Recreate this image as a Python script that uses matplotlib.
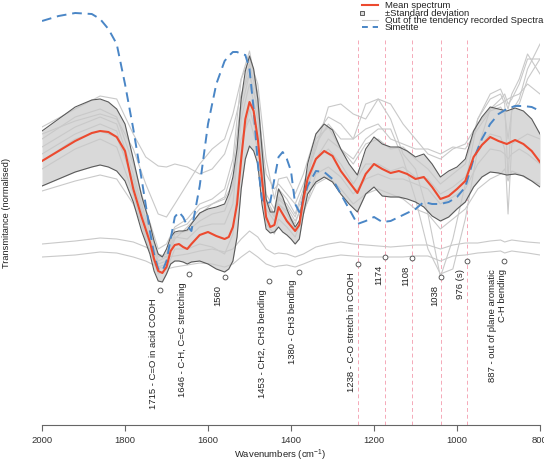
import matplotlib
matplotlib.use("Agg")
import matplotlib.pyplot as plt
from matplotlib.lines import Line2D
import numpy as np

plt.rcParams['font.family'] = ['Liberation Sans', 'DejaVu Sans']
plt.rcParams['mathtext.default'] = 'regular'

# wavenumber grid for the summary curves
wn = [2000, 1960, 1920, 1880, 1860, 1840, 1820, 1800, 1780, 1760, 1740, 1730, 1720, 1710,
      1700, 1690, 1680, 1670, 1660, 1650, 1640, 1620, 1600, 1580, 1560, 1550, 1540, 1530,
      1520, 1510, 1500, 1490, 1480, 1470, 1460, 1450, 1440, 1430, 1420, 1410, 1400, 1390,
      1380, 1370, 1360, 1340, 1320, 1300, 1280, 1260, 1240, 1220, 1200, 1180, 1160, 1140,
      1120, 1100, 1080, 1060, 1040, 1020, 1000, 980, 960, 940, 920, 900, 880, 860, 840,
      820, 800]

mean_spec = [1.38, 1.48, 1.58, 1.66, 1.68, 1.67, 1.62, 1.48, 1.10, 0.82, 0.57, 0.40, 0.28, 0.26,
             0.32, 0.48, 0.54, 0.55, 0.52, 0.50, 0.55, 0.64, 0.67, 0.63, 0.60, 0.62, 0.72, 0.95,
             1.40, 1.80, 1.97, 1.88, 1.60, 1.20, 0.82, 0.72, 0.74, 0.92, 0.85, 0.78, 0.73, 0.68,
             0.74, 1.00, 1.20, 1.40, 1.48, 1.43, 1.28, 1.17, 1.06, 1.25, 1.35, 1.30, 1.26, 1.28,
             1.25, 1.20, 1.22, 1.12, 1.00, 1.03, 1.10, 1.18, 1.42, 1.54, 1.62, 1.58, 1.55, 1.59,
             1.55, 1.48, 1.37]

sd_upper = [1.68, 1.80, 1.92, 1.99, 2.00, 1.97, 1.90, 1.75, 1.40, 1.03, 0.75, 0.58, 0.45, 0.42,
            0.50, 0.62, 0.67, 0.68, 0.68, 0.69, 0.75, 0.86, 0.90, 0.92, 0.95, 1.05, 1.22, 1.50,
            2.00, 2.28, 2.43, 2.30, 2.00, 1.50, 1.00, 0.87, 0.87, 1.10, 1.02, 0.90, 0.80, 0.72,
            0.78, 1.05, 1.35, 1.65, 1.75, 1.69, 1.50, 1.35, 1.24, 1.50, 1.62, 1.55, 1.52, 1.52,
            1.48, 1.42, 1.45, 1.35, 1.22, 1.28, 1.32, 1.40, 1.68, 1.82, 1.92, 1.90, 1.88, 1.91,
            1.88, 1.80, 1.65]

sd_lower = [1.13, 1.20, 1.27, 1.32, 1.34, 1.32, 1.28, 1.18, 0.97, 0.68, 0.45, 0.28, 0.18, 0.17,
            0.25, 0.35, 0.38, 0.38, 0.37, 0.35, 0.37, 0.38, 0.35, 0.30, 0.27, 0.30, 0.38, 0.62,
            1.10, 1.40, 1.53, 1.48, 1.35, 0.95, 0.70, 0.66, 0.67, 0.72, 0.67, 0.64, 0.60, 0.55,
            0.60, 0.85, 1.05, 1.17, 1.22, 1.17, 1.05, 0.95, 0.87, 1.05, 1.12, 1.03, 1.02, 1.02,
            1.00, 0.97, 0.92, 0.83, 0.78, 0.82, 0.90, 0.97, 1.12, 1.22, 1.27, 1.26, 1.24, 1.25,
            1.23, 1.18, 1.12]

simetite = [2.78, 2.83, 2.86, 2.85, 2.80, 2.70, 2.55, 2.15, 1.70, 1.20, 0.68, 0.45, 0.30, 0.28,
            0.38, 0.60, 0.82, 0.87, 0.82, 0.73, 0.68, 1.13, 1.75, 2.15, 2.38, 2.43, 2.47, 2.47,
            2.45, 2.44, 2.30, 1.90, 1.35, 1.00, 0.95, 0.97, 1.20, 1.42, 1.47, 1.40, 1.28, 0.95,
            0.87, 1.00, 1.13, 1.28, 1.27, 1.20, 1.05, 0.90, 0.75, 0.78, 0.82, 0.77, 0.78, 0.82,
            0.86, 0.90, 0.97, 0.95, 0.95, 0.97, 1.02, 1.12, 1.40, 1.60, 1.75, 1.85, 1.90, 1.93,
            1.93, 1.92, 1.88]

# coarser grid for the individual "out of tendency" spectra
wn_g = [2000, 1920, 1860, 1820, 1780, 1750, 1720, 1700, 1680, 1650, 1620, 1590, 1560, 1540,
        1520, 1500, 1480, 1460, 1440, 1430, 1410, 1390, 1370, 1340, 1310, 1280, 1250, 1220,
        1190, 1160, 1130, 1100, 1070, 1040, 1010, 980, 950, 920, 895, 885, 877, 868, 850,
        830, 800]

spec_a = [1.72, 1.90, 2.03, 2.00, 1.65, 1.42, 1.33, 1.32, 1.35, 1.32, 1.25, 1.30, 1.45, 1.70,
          2.05, 2.25, 1.90, 1.25, 1.10, 1.15, 1.05, 0.95, 1.15, 1.50, 1.92, 1.95, 1.85, 1.80,
          2.00, 1.95, 1.75, 1.60, 1.45, 1.40, 1.50, 1.55, 1.75, 1.90, 1.95, 1.98, 2.00, 2.02,
          2.05, 2.15, 2.05]
spec_b = [1.60, 1.82, 1.90, 1.82, 1.35, 0.90, 0.50, 0.55, 0.72, 0.80, 0.95, 1.00, 1.10, 1.40,
          2.20, 2.48, 2.05, 1.05, 0.90, 1.10, 1.00, 0.85, 1.10, 1.60, 1.72, 1.50, 1.35, 1.55,
          1.60, 1.50, 1.52, 1.40, 1.30, 1.15, 1.25, 1.35, 1.80, 2.00, 2.05, 1.95, 1.20, 1.92,
          1.95, 2.20, 2.40]
spec_c = [1.45, 1.65, 1.75, 1.68, 1.15, 0.75, 0.35, 0.38, 0.62, 0.60, 0.72, 0.75, 0.75, 0.95,
          1.80, 2.15, 1.80, 0.90, 0.78, 0.95, 0.88, 0.75, 1.00, 1.40, 1.50, 1.35, 1.15, 1.35,
          1.35, 1.28, 1.32, 1.22, 1.20, 1.05, 1.12, 1.22, 1.50, 1.65, 1.62, 1.50, 0.85, 1.55,
          1.60, 1.65, 1.60]
spec_d = [1.30, 1.50, 1.60, 1.52, 1.05, 0.60, 0.25, 0.30, 0.50, 0.50, 0.55, 0.52, 0.45, 0.65,
          1.50, 1.90, 1.60, 0.75, 0.65, 0.80, 0.72, 0.62, 0.85, 1.25, 1.32, 1.22, 1.05, 1.20,
          1.25, 1.20, 1.20, 1.15, 1.10, 0.95, 1.02, 1.10, 1.35, 1.50, 1.48, 1.45, 1.40, 1.45,
          1.50, 1.45, 1.35]
spec_e = [1.08, 1.18, 1.24, 1.20, 0.95, 0.65, 0.32, 0.35, 0.60, 0.72, 0.85, 0.95, 1.00, 1.15,
          1.60, 1.80, 1.50, 0.95, 0.85, 0.95, 0.85, 0.70, 0.88, 1.15, 1.22, 1.10, 0.95, 1.05,
          1.10, 1.05, 1.00, 0.90, 0.85, 0.70, 0.80, 0.90, 1.10, 1.20, 1.25, 1.30, 1.18, 1.28,
          1.25, 1.20, 1.15]
spec_f = [1.52, 1.72, 1.82, 1.75, 1.25, 0.80, 0.42, 0.45, 0.70, 0.75, 0.90, 0.95, 1.02, 1.30,
          2.00, 2.35, 2.00, 1.00, 0.85, 1.02, 0.95, 0.82, 1.05, 1.55, 1.75, 1.60, 1.60, 1.95,
          2.00, 1.80, 1.45, 1.30, 0.85, 0.22, 0.60, 1.15, 1.80, 2.05, 2.10, 2.00, 1.90, 2.05,
          2.20, 2.45, 2.25]
spec_g = [1.38, 1.60, 1.68, 1.62, 1.20, 0.72, 0.38, 0.42, 0.65, 0.68, 0.78, 0.85, 0.88, 1.10,
          1.90, 2.25, 1.90, 0.95, 0.82, 1.00, 0.92, 0.78, 0.95, 1.40, 1.60, 1.50, 1.40, 1.60,
          1.70, 1.70, 1.40, 1.00, 0.50, 0.25, 0.30, 0.80, 1.50, 1.90, 2.00, 2.05, 1.95, 2.00,
          2.15, 2.40, 2.40]
spec_h = [1.65, 1.78, 1.85, 1.80, 1.50, 1.15, 0.85, 0.82, 0.95, 1.15, 1.35, 1.50, 1.60, 1.85,
          2.20, 2.40, 2.15, 1.40, 1.00, 1.20, 1.22, 1.05, 1.25, 1.65, 1.82, 1.75, 1.60, 1.70,
          1.75, 1.60, 1.55, 1.50, 1.50, 1.45, 1.52, 1.50, 1.70, 1.88, 1.92, 1.85, 1.60, 1.88,
          2.00, 2.30, 2.55]
spec_low1 = [0.55, 0.58, 0.61, 0.60, 0.57, 0.52, 0.45, 0.42, 0.43, 0.45, 0.48, 0.50, 0.47, 0.50,
             0.60, 0.68, 0.62, 0.50, 0.45, 0.46, 0.45, 0.42, 0.45, 0.52, 0.55, 0.57, 0.55, 0.54,
             0.53, 0.52, 0.53, 0.54, 0.54, 0.50, 0.54, 0.56, 0.56, 0.58, 0.59, 0.57, 0.58, 0.59,
             0.58, 0.57, 0.56]
spec_low2 = [0.42, 0.44, 0.47, 0.46, 0.42, 0.38, 0.32, 0.30, 0.32, 0.34, 0.36, 0.35, 0.32, 0.35,
             0.42, 0.48, 0.42, 0.35, 0.32, 0.33, 0.34, 0.32, 0.35, 0.40, 0.42, 0.44, 0.43, 0.42,
             0.42, 0.42, 0.42, 0.43, 0.43, 0.38, 0.43, 0.44, 0.46, 0.47, 0.48, 0.46, 0.47, 0.48,
             0.47, 0.46, 0.44]
other_spectra = [spec_a, spec_b, spec_c, spec_d, spec_e, spec_f, spec_g, spec_h, spec_low1, spec_low2]

# band assignments: position, marker height, label
band_wn = [1715, 1646, 1560, 1453, 1380, 1238, 1174, 1108, 1038, 976, 887]
band_y = [0.09, 0.25, 0.22, 0.18, 0.27, 0.35, 0.42, 0.41, 0.22, 0.38, 0.38]
band_labels = ['1715 - C=O in acid COOH', '1646 - C-H, C=C stretching', '1560',
               '1453 - CH2, CH3 bending', '1380 - CH3 bending', '1238 - C-O stretch in COOH',
               '1174', '1108', '1038', '976 (s)',
               '887 - out of plane aromatic\nC-H bending']
guide_wn = [1238, 1174, 1108, 1038, 976]

RED = '#ec4a2f'
BLUE = '#4a86c6'
GREY = '#c9c9c9'
BAND = '#d9d9d9'
EDGE = '#5a5a5a'

fig = plt.figure(figsize=(5.44, 4.64), dpi=100)
ax = fig.add_axes([42 / 544, 38 / 464, 498 / 544, 426 / 464])

ax.vlines(guide_wn, -1.26, 2.6, colors='#f5a9b8', linestyles=(0, (4, 3)), lw=0.7, zorder=1)

ax.fill_between(wn, sd_lower, sd_upper, color=BAND, lw=0, zorder=2)
for s in other_spectra:
    ax.plot(wn_g, s, color=GREY, lw=0.8, zorder=3)
ax.plot(wn, sd_upper, color=EDGE, lw=0.8, zorder=4)
ax.plot(wn, sd_lower, color=EDGE, lw=0.8, zorder=4)
ax.plot(wn, simetite, color=BLUE, lw=1.4, ls=(0, (5, 3)), zorder=5)
ax.plot(wn, mean_spec, color=RED, lw=1.5, zorder=6)

ax.plot(band_wn, band_y, 'o', ms=3.5, mfc='white', mec='#444444', mew=0.6, zorder=7)
for x, y, lab in zip(band_wn, band_y, band_labels):
    ax.annotate(lab, (x, y), xytext=(-6.5, -7), textcoords='offset pixels',
                rotation=90, ha='center', va='top', multialignment='right',
                fontsize=6.8, color='#222222')

ax.set_xlim(2000, 800)
ax.set_ylim(-1.26, 3.0)
for side in ['top', 'right', 'left']:
    ax.spines[side].set_visible(False)
ax.spines['bottom'].set_color('#666666')
ax.spines['bottom'].set_linewidth(0.8)
ax.set_xticks([2000, 1800, 1600, 1400, 1200, 1000, 800])
ax.tick_params(axis='x', length=4, width=0.8, color='#666666', labelsize=6.8,
               labelcolor='#333333', pad=3)
ax.set_yticks([])
ax.set_xlabel('Wavenumbers (cm$^{-1}$)', fontsize=6.8, color='#222222')
ax.xaxis.set_label_coords(0.478, -0.05)
ax.set_ylabel('Transmitance (normalised)', fontsize=6.7, color='#222222')
ax.yaxis.set_label_coords(-0.063, 0.5)

# legend, drawn in figure pixels like the tight R legend (rows overlap slightly)
leg_labels = ['Mean spectrum', '\u00b1Standard deviation',
              'Out of the tendency recorded Spectra', 'Simetite']
leg_rows = [6, 13.5, 20.5, 28]
W, H = 544.0, 464.0
fig.add_artist(Line2D([362 / W, 378 / W], [1 - 5.5 / H] * 2, color=RED, lw=1.5))
fig.add_artist(Line2D([362 / W], [1 - 13.5 / H], ls='none', marker='s', ms=3.5,
                      mfc=BAND, mec='#444444', mew=0.6))
fig.add_artist(Line2D([362 / W, 378 / W], [1 - 20.5 / H] * 2, color=GREY, lw=0.8))
fig.add_artist(Line2D([362 / W, 378 / W], [1 - 28 / H] * 2, color=BLUE, lw=1.4,
                      ls=(0, (3, 2.5))))
for lab, r in zip(leg_labels, leg_rows):
    fig.text(385 / W, 1 - r / H, lab, fontsize=6.8, va='center', ha='left',
             color='#222222')

fig.savefig('out.png', dpi=100)
